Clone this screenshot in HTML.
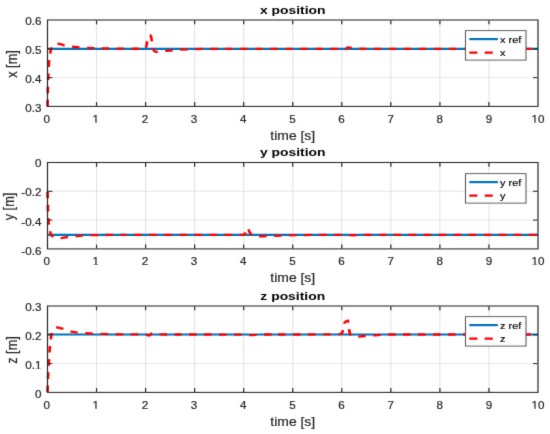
<!DOCTYPE html>
<html><head><meta charset="utf-8"><style>
html,body{margin:0;padding:0;background:#fff;width:550px;height:434px;overflow:hidden}
svg{display:block;font-family:"Liberation Sans",sans-serif}
</style></head><body>
<svg width="550" height="434" viewBox="0 0 550 434" font-family="Liberation Sans, sans-serif">
<defs><filter id="soft" filterUnits="userSpaceOnUse" x="0" y="0" width="550" height="434" color-interpolation-filters="sRGB"><feConvolveMatrix order="3" kernelMatrix="1 8 1 8 64 8 1 8 1" divisor="100" edgeMode="duplicate"/></filter></defs>
<g filter="url(#soft)">
<rect x="0" y="0" width="550" height="434" fill="#fff"/>
<g transform="scale(1.1400,1)">
<line x1="84.69" y1="20.00" x2="84.69" y2="106.40" stroke="#e3e3e3" stroke-width="0.95"/>
<line x1="127.72" y1="20.00" x2="127.72" y2="106.40" stroke="#e3e3e3" stroke-width="0.95"/>
<line x1="170.75" y1="20.00" x2="170.75" y2="106.40" stroke="#e3e3e3" stroke-width="0.95"/>
<line x1="213.77" y1="20.00" x2="213.77" y2="106.40" stroke="#e3e3e3" stroke-width="0.95"/>
<line x1="256.80" y1="20.00" x2="256.80" y2="106.40" stroke="#e3e3e3" stroke-width="0.95"/>
<line x1="299.82" y1="20.00" x2="299.82" y2="106.40" stroke="#e3e3e3" stroke-width="0.95"/>
<line x1="342.85" y1="20.00" x2="342.85" y2="106.40" stroke="#e3e3e3" stroke-width="0.95"/>
<line x1="385.88" y1="20.00" x2="385.88" y2="106.40" stroke="#e3e3e3" stroke-width="0.95"/>
<line x1="428.90" y1="20.00" x2="428.90" y2="106.40" stroke="#e3e3e3" stroke-width="0.95"/>
<line x1="41.67" y1="77.60" x2="471.93" y2="77.60" stroke="#e3e3e3" stroke-width="0.95"/>
<line x1="41.67" y1="48.80" x2="471.93" y2="48.80" stroke="#e3e3e3" stroke-width="0.95"/>
<line x1="41.67" y1="48.80" x2="471.93" y2="48.80" stroke="#0072BD" stroke-width="2.20"/>
<path d="M41.67,106.40 L41.95,90.14 L42.46,72.02 L42.96,62.60 L43.53,56.70 L44.32,51.32 L44.83,49.13 L45.55,47.05 L46.26,45.73 L47.13,44.61 L47.70,44.19 L49.07,43.71 L50.07,43.62 L51.79,43.91 L53.66,44.42 L56.46,45.42 L60.20,46.13 L70.69,47.55 L75.36,47.89 L84.69,48.24" fill="none" stroke="#FF0000" stroke-width="2.30" stroke-dasharray="6.6 6.6" stroke-dashoffset="0.00"/>
<path d="M84.69,48.24 L103.28,48.65 L126.53,48.80 L127.39,48.77 L127.82,48.18 L128.32,46.40 L129.11,41.39 L129.90,38.07 L130.40,36.78 L131.12,35.52 L131.48,35.23 L131.69,35.23 L132.05,35.67 L132.56,36.90 L133.13,40.59 L133.78,46.12 L134.35,48.93 L134.78,50.02 L135.43,50.99 L136.00,51.45 L136.86,51.84 L138.22,51.85 L141.24,51.54 L145.76,50.86 L158.39,49.62 L167.36,49.16 L177.26,48.91 L192.26,48.80" fill="none" stroke="#FF0000" stroke-width="2.30" stroke-dasharray="6.6 6.6" stroke-dashoffset="8.86"/>
<path d="M192.26,48.80 L300.01,48.82 L301.38,49.50 L302.52,49.43 L303.10,49.26 L303.82,48.51 L304.61,47.65 L304.99,47.50 L306.98,47.69 L309.27,48.37 L313.29,48.76 L325.64,48.80" fill="none" stroke="#FF0000" stroke-width="2.30" stroke-dasharray="6.6 6.6" stroke-dashoffset="8.09"/>
<path d="M325.64,48.80 L471.93,48.80" fill="none" stroke="#FF0000" stroke-width="2.30" stroke-dasharray="6.6 6.6" stroke-dashoffset="11.03"/>
<line x1="84.69" y1="105.88" x2="84.69" y2="102.10" stroke="#262626" stroke-width="1.05"/>
<line x1="84.69" y1="20.52" x2="84.69" y2="24.30" stroke="#262626" stroke-width="1.05"/>
<line x1="127.72" y1="105.88" x2="127.72" y2="102.10" stroke="#262626" stroke-width="1.05"/>
<line x1="127.72" y1="20.52" x2="127.72" y2="24.30" stroke="#262626" stroke-width="1.05"/>
<line x1="170.75" y1="105.88" x2="170.75" y2="102.10" stroke="#262626" stroke-width="1.05"/>
<line x1="170.75" y1="20.52" x2="170.75" y2="24.30" stroke="#262626" stroke-width="1.05"/>
<line x1="213.77" y1="105.88" x2="213.77" y2="102.10" stroke="#262626" stroke-width="1.05"/>
<line x1="213.77" y1="20.52" x2="213.77" y2="24.30" stroke="#262626" stroke-width="1.05"/>
<line x1="256.80" y1="105.88" x2="256.80" y2="102.10" stroke="#262626" stroke-width="1.05"/>
<line x1="256.80" y1="20.52" x2="256.80" y2="24.30" stroke="#262626" stroke-width="1.05"/>
<line x1="299.82" y1="105.88" x2="299.82" y2="102.10" stroke="#262626" stroke-width="1.05"/>
<line x1="299.82" y1="20.52" x2="299.82" y2="24.30" stroke="#262626" stroke-width="1.05"/>
<line x1="342.85" y1="105.88" x2="342.85" y2="102.10" stroke="#262626" stroke-width="1.05"/>
<line x1="342.85" y1="20.52" x2="342.85" y2="24.30" stroke="#262626" stroke-width="1.05"/>
<line x1="385.88" y1="105.88" x2="385.88" y2="102.10" stroke="#262626" stroke-width="1.05"/>
<line x1="385.88" y1="20.52" x2="385.88" y2="24.30" stroke="#262626" stroke-width="1.05"/>
<line x1="428.90" y1="105.88" x2="428.90" y2="102.10" stroke="#262626" stroke-width="1.05"/>
<line x1="428.90" y1="20.52" x2="428.90" y2="24.30" stroke="#262626" stroke-width="1.05"/>
<line x1="42.19" y1="77.60" x2="45.97" y2="77.60" stroke="#262626" stroke-width="1.05"/>
<line x1="471.40" y1="77.60" x2="467.63" y2="77.60" stroke="#262626" stroke-width="1.05"/>
<line x1="42.19" y1="48.80" x2="45.97" y2="48.80" stroke="#262626" stroke-width="1.05"/>
<line x1="471.40" y1="48.80" x2="467.63" y2="48.80" stroke="#262626" stroke-width="1.05"/>
<rect x="41.67" y="20.00" width="430.26" height="86.40" fill="none" stroke="#262626" stroke-width="1.05"/>
<text transform="translate(40.96,122.80) scale(0.930,1)" text-anchor="middle" font-size="11.00" font-weight="normal" fill="#262626" stroke="#262626" stroke-width="0.20">0</text>
<text transform="translate(84.07,122.80) scale(0.930,1)" text-anchor="middle" font-size="11.00" font-weight="normal" fill="#262626" stroke="#262626" stroke-width="0.20">1</text>
<text transform="translate(127.18,122.80) scale(0.930,1)" text-anchor="middle" font-size="11.00" font-weight="normal" fill="#262626" stroke="#262626" stroke-width="0.20">2</text>
<text transform="translate(170.28,122.80) scale(0.930,1)" text-anchor="middle" font-size="11.00" font-weight="normal" fill="#262626" stroke="#262626" stroke-width="0.20">3</text>
<text transform="translate(213.39,122.80) scale(0.930,1)" text-anchor="middle" font-size="11.00" font-weight="normal" fill="#262626" stroke="#262626" stroke-width="0.20">4</text>
<text transform="translate(256.49,122.80) scale(0.930,1)" text-anchor="middle" font-size="11.00" font-weight="normal" fill="#262626" stroke="#262626" stroke-width="0.20">5</text>
<text transform="translate(299.60,122.80) scale(0.930,1)" text-anchor="middle" font-size="11.00" font-weight="normal" fill="#262626" stroke="#262626" stroke-width="0.20">6</text>
<text transform="translate(342.70,122.80) scale(0.930,1)" text-anchor="middle" font-size="11.00" font-weight="normal" fill="#262626" stroke="#262626" stroke-width="0.20">7</text>
<text transform="translate(385.81,122.80) scale(0.930,1)" text-anchor="middle" font-size="11.00" font-weight="normal" fill="#262626" stroke="#262626" stroke-width="0.20">8</text>
<text transform="translate(428.91,122.80) scale(0.930,1)" text-anchor="middle" font-size="11.00" font-weight="normal" fill="#262626" stroke="#262626" stroke-width="0.20">9</text>
<text transform="translate(472.02,122.80) scale(0.930,1)" text-anchor="middle" font-size="11.00" font-weight="normal" fill="#262626" stroke="#262626" stroke-width="0.20">10</text>
<text transform="translate(36.32,112.10) scale(0.930,1)" text-anchor="end" font-size="11.00" font-weight="normal" fill="#262626" stroke="#262626" stroke-width="0.20">0.3</text>
<text transform="translate(36.32,83.30) scale(0.930,1)" text-anchor="end" font-size="11.00" font-weight="normal" fill="#262626" stroke="#262626" stroke-width="0.20">0.4</text>
<text transform="translate(36.32,53.85) scale(0.930,1)" text-anchor="end" font-size="11.00" font-weight="normal" fill="#262626" stroke="#262626" stroke-width="0.20">0.5</text>
<text transform="translate(36.32,24.85) scale(0.930,1)" text-anchor="end" font-size="11.00" font-weight="normal" fill="#262626" stroke="#262626" stroke-width="0.20">0.6</text>
<rect x="81.53" y="121.93" width="2.24" height="1.57" fill="#fff"/><rect x="84.73" y="121.93" width="2.19" height="1.57" fill="#fff"/>
<rect x="466.63" y="121.93" width="2.24" height="1.57" fill="#fff"/><rect x="469.83" y="121.93" width="2.19" height="1.57" fill="#fff"/>
<text transform="translate(256.80,139.90)" text-anchor="middle" font-size="12.20" font-weight="normal" fill="#262626" stroke="#262626" stroke-width="0.20">time [s]</text>
<text transform="translate(15.35,64.00) rotate(-90)" text-anchor="middle" font-size="12.80" font-weight="normal" fill="#262626" stroke="#262626" stroke-width="0.20">x [m]</text>
<text transform="translate(256.80,13.90) scale(1.070,1)" text-anchor="middle" font-size="11.40" font-weight="bold" fill="#000">x position</text>
<rect x="408.33" y="30.60" width="53.07" height="29.50" fill="#fff" stroke="#5a5a5a" stroke-width="0.95"/>
<line x1="411.67" y1="39.10" x2="436.75" y2="39.10" stroke="#0072BD" stroke-width="2.20"/>
<line x1="411.67" y1="52.60" x2="436.75" y2="52.60" stroke="#FF0000" stroke-width="2.30" stroke-dasharray="7.1 6.4"/>
<text transform="translate(438.60,42.60)" text-anchor="start" font-size="9.60" font-weight="normal" fill="#000" stroke="#000" stroke-width="0.15">x ref</text>
<text transform="translate(438.60,56.30)" text-anchor="start" font-size="9.60" font-weight="normal" fill="#000" stroke="#000" stroke-width="0.15">x</text>
<line x1="84.69" y1="162.50" x2="84.69" y2="248.90" stroke="#e3e3e3" stroke-width="0.95"/>
<line x1="127.72" y1="162.50" x2="127.72" y2="248.90" stroke="#e3e3e3" stroke-width="0.95"/>
<line x1="170.75" y1="162.50" x2="170.75" y2="248.90" stroke="#e3e3e3" stroke-width="0.95"/>
<line x1="213.77" y1="162.50" x2="213.77" y2="248.90" stroke="#e3e3e3" stroke-width="0.95"/>
<line x1="256.80" y1="162.50" x2="256.80" y2="248.90" stroke="#e3e3e3" stroke-width="0.95"/>
<line x1="299.82" y1="162.50" x2="299.82" y2="248.90" stroke="#e3e3e3" stroke-width="0.95"/>
<line x1="342.85" y1="162.50" x2="342.85" y2="248.90" stroke="#e3e3e3" stroke-width="0.95"/>
<line x1="385.88" y1="162.50" x2="385.88" y2="248.90" stroke="#e3e3e3" stroke-width="0.95"/>
<line x1="428.90" y1="162.50" x2="428.90" y2="248.90" stroke="#e3e3e3" stroke-width="0.95"/>
<line x1="41.67" y1="220.10" x2="471.93" y2="220.10" stroke="#e3e3e3" stroke-width="0.95"/>
<line x1="41.67" y1="191.30" x2="471.93" y2="191.30" stroke="#e3e3e3" stroke-width="0.95"/>
<line x1="41.67" y1="234.90" x2="471.93" y2="234.90" stroke="#0072BD" stroke-width="2.20"/>
<path d="M41.67,191.70 L42.18,213.30 L42.60,222.47 L43.03,226.88 L43.68,230.61 L44.54,233.70 L45.18,235.33 L45.97,236.32 L46.84,237.00 L48.20,237.53 L49.99,237.90 L52.94,238.07 L54.88,237.87 L58.75,237.16 L67.22,236.17 L71.75,235.62 L79.43,235.22 L93.93,234.97 L106.21,234.91" fill="none" stroke="#FF0000" stroke-width="2.30" stroke-dasharray="6.6 6.6" stroke-dashoffset="0.00"/>
<path d="M106.21,234.91 L213.32,234.86 L213.97,234.66 L214.47,234.08 L215.19,232.74 L216.14,229.43 L216.76,228.02 L217.00,227.84 L217.27,228.05 L218.63,231.18 L219.49,233.12 L220.35,234.56 L221.07,235.24 L222.00,235.79 L224.01,236.21 L226.38,236.41 L230.83,236.25 L254.43,235.25 L256.80,235.19" fill="none" stroke="#FF0000" stroke-width="2.30" stroke-dasharray="6.6 6.6" stroke-dashoffset="1.69"/>
<path d="M256.80,235.19 L273.81,234.94 L300.87,234.94 L304.67,235.20 L310.12,235.23 L320.60,234.90 L342.85,234.90" fill="none" stroke="#FF0000" stroke-width="2.30" stroke-dasharray="6.6 6.6" stroke-dashoffset="3.33"/>
<path d="M342.85,234.90 L471.93,234.90" fill="none" stroke="#FF0000" stroke-width="2.30" stroke-dasharray="6.6 6.6" stroke-dashoffset="10.83"/>
<line x1="84.69" y1="248.38" x2="84.69" y2="244.60" stroke="#262626" stroke-width="1.05"/>
<line x1="84.69" y1="163.03" x2="84.69" y2="166.80" stroke="#262626" stroke-width="1.05"/>
<line x1="127.72" y1="248.38" x2="127.72" y2="244.60" stroke="#262626" stroke-width="1.05"/>
<line x1="127.72" y1="163.03" x2="127.72" y2="166.80" stroke="#262626" stroke-width="1.05"/>
<line x1="170.75" y1="248.38" x2="170.75" y2="244.60" stroke="#262626" stroke-width="1.05"/>
<line x1="170.75" y1="163.03" x2="170.75" y2="166.80" stroke="#262626" stroke-width="1.05"/>
<line x1="213.77" y1="248.38" x2="213.77" y2="244.60" stroke="#262626" stroke-width="1.05"/>
<line x1="213.77" y1="163.03" x2="213.77" y2="166.80" stroke="#262626" stroke-width="1.05"/>
<line x1="256.80" y1="248.38" x2="256.80" y2="244.60" stroke="#262626" stroke-width="1.05"/>
<line x1="256.80" y1="163.03" x2="256.80" y2="166.80" stroke="#262626" stroke-width="1.05"/>
<line x1="299.82" y1="248.38" x2="299.82" y2="244.60" stroke="#262626" stroke-width="1.05"/>
<line x1="299.82" y1="163.03" x2="299.82" y2="166.80" stroke="#262626" stroke-width="1.05"/>
<line x1="342.85" y1="248.38" x2="342.85" y2="244.60" stroke="#262626" stroke-width="1.05"/>
<line x1="342.85" y1="163.03" x2="342.85" y2="166.80" stroke="#262626" stroke-width="1.05"/>
<line x1="385.88" y1="248.38" x2="385.88" y2="244.60" stroke="#262626" stroke-width="1.05"/>
<line x1="385.88" y1="163.03" x2="385.88" y2="166.80" stroke="#262626" stroke-width="1.05"/>
<line x1="428.90" y1="248.38" x2="428.90" y2="244.60" stroke="#262626" stroke-width="1.05"/>
<line x1="428.90" y1="163.03" x2="428.90" y2="166.80" stroke="#262626" stroke-width="1.05"/>
<line x1="42.19" y1="220.10" x2="45.97" y2="220.10" stroke="#262626" stroke-width="1.05"/>
<line x1="471.40" y1="220.10" x2="467.63" y2="220.10" stroke="#262626" stroke-width="1.05"/>
<line x1="42.19" y1="191.30" x2="45.97" y2="191.30" stroke="#262626" stroke-width="1.05"/>
<line x1="471.40" y1="191.30" x2="467.63" y2="191.30" stroke="#262626" stroke-width="1.05"/>
<rect x="41.67" y="162.50" width="430.26" height="86.40" fill="none" stroke="#262626" stroke-width="1.05"/>
<text transform="translate(40.96,265.30) scale(0.930,1)" text-anchor="middle" font-size="11.00" font-weight="normal" fill="#262626" stroke="#262626" stroke-width="0.20">0</text>
<text transform="translate(84.07,265.30) scale(0.930,1)" text-anchor="middle" font-size="11.00" font-weight="normal" fill="#262626" stroke="#262626" stroke-width="0.20">1</text>
<text transform="translate(127.18,265.30) scale(0.930,1)" text-anchor="middle" font-size="11.00" font-weight="normal" fill="#262626" stroke="#262626" stroke-width="0.20">2</text>
<text transform="translate(170.28,265.30) scale(0.930,1)" text-anchor="middle" font-size="11.00" font-weight="normal" fill="#262626" stroke="#262626" stroke-width="0.20">3</text>
<text transform="translate(213.39,265.30) scale(0.930,1)" text-anchor="middle" font-size="11.00" font-weight="normal" fill="#262626" stroke="#262626" stroke-width="0.20">4</text>
<text transform="translate(256.49,265.30) scale(0.930,1)" text-anchor="middle" font-size="11.00" font-weight="normal" fill="#262626" stroke="#262626" stroke-width="0.20">5</text>
<text transform="translate(299.60,265.30) scale(0.930,1)" text-anchor="middle" font-size="11.00" font-weight="normal" fill="#262626" stroke="#262626" stroke-width="0.20">6</text>
<text transform="translate(342.70,265.30) scale(0.930,1)" text-anchor="middle" font-size="11.00" font-weight="normal" fill="#262626" stroke="#262626" stroke-width="0.20">7</text>
<text transform="translate(385.81,265.30) scale(0.930,1)" text-anchor="middle" font-size="11.00" font-weight="normal" fill="#262626" stroke="#262626" stroke-width="0.20">8</text>
<text transform="translate(428.91,265.30) scale(0.930,1)" text-anchor="middle" font-size="11.00" font-weight="normal" fill="#262626" stroke="#262626" stroke-width="0.20">9</text>
<text transform="translate(472.02,265.30) scale(0.930,1)" text-anchor="middle" font-size="11.00" font-weight="normal" fill="#262626" stroke="#262626" stroke-width="0.20">10</text>
<text transform="translate(36.32,254.70) scale(0.930,1)" text-anchor="end" font-size="11.00" font-weight="normal" fill="#262626" stroke="#262626" stroke-width="0.20">-0.6</text>
<text transform="translate(36.32,225.85) scale(0.930,1)" text-anchor="end" font-size="11.00" font-weight="normal" fill="#262626" stroke="#262626" stroke-width="0.20">-0.4</text>
<text transform="translate(36.32,196.20) scale(0.930,1)" text-anchor="end" font-size="11.00" font-weight="normal" fill="#262626" stroke="#262626" stroke-width="0.20">-0.2</text>
<text transform="translate(36.32,167.30) scale(0.930,1)" text-anchor="end" font-size="11.00" font-weight="normal" fill="#262626" stroke="#262626" stroke-width="0.20">0</text>
<rect x="81.53" y="264.43" width="2.24" height="1.57" fill="#fff"/><rect x="84.73" y="264.43" width="2.19" height="1.57" fill="#fff"/>
<rect x="466.63" y="264.43" width="2.24" height="1.57" fill="#fff"/><rect x="469.83" y="264.43" width="2.19" height="1.57" fill="#fff"/>
<text transform="translate(256.80,282.40)" text-anchor="middle" font-size="12.20" font-weight="normal" fill="#262626" stroke="#262626" stroke-width="0.20">time [s]</text>
<text transform="translate(12.46,206.50) rotate(-90)" text-anchor="middle" font-size="12.80" font-weight="normal" fill="#262626" stroke="#262626" stroke-width="0.20">y [m]</text>
<text transform="translate(256.80,156.40) scale(1.070,1)" text-anchor="middle" font-size="11.40" font-weight="bold" fill="#000">y position</text>
<rect x="408.33" y="173.60" width="53.07" height="29.50" fill="#fff" stroke="#5a5a5a" stroke-width="0.95"/>
<line x1="411.67" y1="182.10" x2="436.75" y2="182.10" stroke="#0072BD" stroke-width="2.20"/>
<line x1="411.67" y1="195.60" x2="436.75" y2="195.60" stroke="#FF0000" stroke-width="2.30" stroke-dasharray="7.1 6.4"/>
<text transform="translate(438.60,185.60)" text-anchor="start" font-size="9.60" font-weight="normal" fill="#000" stroke="#000" stroke-width="0.15">y ref</text>
<text transform="translate(438.60,199.30)" text-anchor="start" font-size="9.60" font-weight="normal" fill="#000" stroke="#000" stroke-width="0.15">y</text>
<line x1="84.69" y1="306.00" x2="84.69" y2="392.40" stroke="#e3e3e3" stroke-width="0.95"/>
<line x1="127.72" y1="306.00" x2="127.72" y2="392.40" stroke="#e3e3e3" stroke-width="0.95"/>
<line x1="170.75" y1="306.00" x2="170.75" y2="392.40" stroke="#e3e3e3" stroke-width="0.95"/>
<line x1="213.77" y1="306.00" x2="213.77" y2="392.40" stroke="#e3e3e3" stroke-width="0.95"/>
<line x1="256.80" y1="306.00" x2="256.80" y2="392.40" stroke="#e3e3e3" stroke-width="0.95"/>
<line x1="299.82" y1="306.00" x2="299.82" y2="392.40" stroke="#e3e3e3" stroke-width="0.95"/>
<line x1="342.85" y1="306.00" x2="342.85" y2="392.40" stroke="#e3e3e3" stroke-width="0.95"/>
<line x1="385.88" y1="306.00" x2="385.88" y2="392.40" stroke="#e3e3e3" stroke-width="0.95"/>
<line x1="428.90" y1="306.00" x2="428.90" y2="392.40" stroke="#e3e3e3" stroke-width="0.95"/>
<line x1="41.67" y1="363.60" x2="471.93" y2="363.60" stroke="#e3e3e3" stroke-width="0.95"/>
<line x1="41.67" y1="334.80" x2="471.93" y2="334.80" stroke="#e3e3e3" stroke-width="0.95"/>
<line x1="41.67" y1="334.50" x2="471.93" y2="334.50" stroke="#0072BD" stroke-width="2.20"/>
<path d="M41.67,392.10 L42.24,374.51 L43.68,347.94 L44.32,340.71 L45.04,335.28 L45.69,332.61 L46.33,330.89 L47.34,329.14 L48.06,328.35 L49.21,327.65 L49.85,327.50 L51.15,327.69 L56.73,329.20 L58.54,330.00 L61.06,331.23 L62.85,331.74 L66.66,332.42 L72.19,333.02 L79.37,333.42 L89.00,333.92" fill="none" stroke="#FF0000" stroke-width="2.30" stroke-dasharray="6.6 6.6" stroke-dashoffset="0.00"/>
<path d="M89.00,333.92 L104.65,334.33 L125.18,334.50 L127.98,334.53 L128.84,334.90 L129.92,335.45 L130.56,335.48 L131.42,335.15 L132.21,334.62 L133.07,333.45 L133.36,333.35 L134.44,333.55 L136.23,334.06 L140.90,334.46 L153.54,334.50" fill="none" stroke="#FF0000" stroke-width="2.30" stroke-dasharray="6.6 6.6" stroke-dashoffset="0.66"/>
<path d="M153.54,334.50 L214.38,334.54 L217.61,335.20 L221.27,335.13 L224.50,334.88 L228.17,334.51 L239.59,334.50" fill="none" stroke="#FF0000" stroke-width="2.30" stroke-dasharray="6.6 6.6" stroke-dashoffset="0.99"/>
<path d="M239.59,334.50 L296.35,334.46 L298.28,334.13 L298.93,333.89 L299.72,333.18 L300.22,332.40 L300.72,330.87 L301.33,325.57 L301.94,323.46 L302.45,322.49 L303.31,321.50 L304.13,320.96 L304.96,320.68 L305.10,320.69 L305.32,321.31 L305.96,325.98 L306.49,331.33 L307.04,333.81 L307.47,334.85 L308.04,335.66 L308.47,335.96 L310.34,336.50 L312.21,336.73 L314.50,336.65 L320.03,336.01 L328.71,335.33 L334.09,334.80 L341.84,334.51 L351.46,334.50" fill="none" stroke="#FF0000" stroke-width="2.30" stroke-dasharray="6.6 6.6" stroke-dashoffset="8.88"/>
<path d="M351.46,334.50 L471.93,334.50" fill="none" stroke="#FF0000" stroke-width="2.30" stroke-dasharray="6.6 6.6" stroke-dashoffset="11.24"/>
<line x1="84.69" y1="391.88" x2="84.69" y2="388.10" stroke="#262626" stroke-width="1.05"/>
<line x1="84.69" y1="306.52" x2="84.69" y2="310.30" stroke="#262626" stroke-width="1.05"/>
<line x1="127.72" y1="391.88" x2="127.72" y2="388.10" stroke="#262626" stroke-width="1.05"/>
<line x1="127.72" y1="306.52" x2="127.72" y2="310.30" stroke="#262626" stroke-width="1.05"/>
<line x1="170.75" y1="391.88" x2="170.75" y2="388.10" stroke="#262626" stroke-width="1.05"/>
<line x1="170.75" y1="306.52" x2="170.75" y2="310.30" stroke="#262626" stroke-width="1.05"/>
<line x1="213.77" y1="391.88" x2="213.77" y2="388.10" stroke="#262626" stroke-width="1.05"/>
<line x1="213.77" y1="306.52" x2="213.77" y2="310.30" stroke="#262626" stroke-width="1.05"/>
<line x1="256.80" y1="391.88" x2="256.80" y2="388.10" stroke="#262626" stroke-width="1.05"/>
<line x1="256.80" y1="306.52" x2="256.80" y2="310.30" stroke="#262626" stroke-width="1.05"/>
<line x1="299.82" y1="391.88" x2="299.82" y2="388.10" stroke="#262626" stroke-width="1.05"/>
<line x1="299.82" y1="306.52" x2="299.82" y2="310.30" stroke="#262626" stroke-width="1.05"/>
<line x1="342.85" y1="391.88" x2="342.85" y2="388.10" stroke="#262626" stroke-width="1.05"/>
<line x1="342.85" y1="306.52" x2="342.85" y2="310.30" stroke="#262626" stroke-width="1.05"/>
<line x1="385.88" y1="391.88" x2="385.88" y2="388.10" stroke="#262626" stroke-width="1.05"/>
<line x1="385.88" y1="306.52" x2="385.88" y2="310.30" stroke="#262626" stroke-width="1.05"/>
<line x1="428.90" y1="391.88" x2="428.90" y2="388.10" stroke="#262626" stroke-width="1.05"/>
<line x1="428.90" y1="306.52" x2="428.90" y2="310.30" stroke="#262626" stroke-width="1.05"/>
<line x1="42.19" y1="363.60" x2="45.97" y2="363.60" stroke="#262626" stroke-width="1.05"/>
<line x1="471.40" y1="363.60" x2="467.63" y2="363.60" stroke="#262626" stroke-width="1.05"/>
<line x1="42.19" y1="334.80" x2="45.97" y2="334.80" stroke="#262626" stroke-width="1.05"/>
<line x1="471.40" y1="334.80" x2="467.63" y2="334.80" stroke="#262626" stroke-width="1.05"/>
<rect x="41.67" y="306.00" width="430.26" height="86.40" fill="none" stroke="#262626" stroke-width="1.05"/>
<text transform="translate(40.96,408.80) scale(0.930,1)" text-anchor="middle" font-size="11.00" font-weight="normal" fill="#262626" stroke="#262626" stroke-width="0.20">0</text>
<text transform="translate(84.07,408.80) scale(0.930,1)" text-anchor="middle" font-size="11.00" font-weight="normal" fill="#262626" stroke="#262626" stroke-width="0.20">1</text>
<text transform="translate(127.18,408.80) scale(0.930,1)" text-anchor="middle" font-size="11.00" font-weight="normal" fill="#262626" stroke="#262626" stroke-width="0.20">2</text>
<text transform="translate(170.28,408.80) scale(0.930,1)" text-anchor="middle" font-size="11.00" font-weight="normal" fill="#262626" stroke="#262626" stroke-width="0.20">3</text>
<text transform="translate(213.39,408.80) scale(0.930,1)" text-anchor="middle" font-size="11.00" font-weight="normal" fill="#262626" stroke="#262626" stroke-width="0.20">4</text>
<text transform="translate(256.49,408.80) scale(0.930,1)" text-anchor="middle" font-size="11.00" font-weight="normal" fill="#262626" stroke="#262626" stroke-width="0.20">5</text>
<text transform="translate(299.60,408.80) scale(0.930,1)" text-anchor="middle" font-size="11.00" font-weight="normal" fill="#262626" stroke="#262626" stroke-width="0.20">6</text>
<text transform="translate(342.70,408.80) scale(0.930,1)" text-anchor="middle" font-size="11.00" font-weight="normal" fill="#262626" stroke="#262626" stroke-width="0.20">7</text>
<text transform="translate(385.81,408.80) scale(0.930,1)" text-anchor="middle" font-size="11.00" font-weight="normal" fill="#262626" stroke="#262626" stroke-width="0.20">8</text>
<text transform="translate(428.91,408.80) scale(0.930,1)" text-anchor="middle" font-size="11.00" font-weight="normal" fill="#262626" stroke="#262626" stroke-width="0.20">9</text>
<text transform="translate(472.02,408.80) scale(0.930,1)" text-anchor="middle" font-size="11.00" font-weight="normal" fill="#262626" stroke="#262626" stroke-width="0.20">10</text>
<text transform="translate(36.32,398.20) scale(0.930,1)" text-anchor="end" font-size="11.00" font-weight="normal" fill="#262626" stroke="#262626" stroke-width="0.20">0</text>
<text transform="translate(36.32,369.30) scale(0.930,1)" text-anchor="end" font-size="11.00" font-weight="normal" fill="#262626" stroke="#262626" stroke-width="0.20">0.1</text>
<text transform="translate(36.32,339.65) scale(0.930,1)" text-anchor="end" font-size="11.00" font-weight="normal" fill="#262626" stroke="#262626" stroke-width="0.20">0.2</text>
<text transform="translate(36.32,310.85) scale(0.930,1)" text-anchor="end" font-size="11.00" font-weight="normal" fill="#262626" stroke="#262626" stroke-width="0.20">0.3</text>
<rect x="81.53" y="407.93" width="2.24" height="1.57" fill="#fff"/><rect x="84.73" y="407.93" width="2.19" height="1.57" fill="#fff"/>
<rect x="466.63" y="407.93" width="2.24" height="1.57" fill="#fff"/><rect x="469.83" y="407.93" width="2.19" height="1.57" fill="#fff"/>
<rect x="30.93" y="368.43" width="2.24" height="1.57" fill="#fff"/><rect x="34.13" y="368.43" width="2.19" height="1.57" fill="#fff"/>
<text transform="translate(256.80,425.90)" text-anchor="middle" font-size="12.20" font-weight="normal" fill="#262626" stroke="#262626" stroke-width="0.20">time [s]</text>
<text transform="translate(15.35,350.00) rotate(-90)" text-anchor="middle" font-size="12.80" font-weight="normal" fill="#262626" stroke="#262626" stroke-width="0.20">z [m]</text>
<text transform="translate(256.80,299.90) scale(1.070,1)" text-anchor="middle" font-size="11.40" font-weight="bold" fill="#000">z position</text>
<rect x="408.33" y="316.60" width="53.07" height="29.50" fill="#fff" stroke="#5a5a5a" stroke-width="0.95"/>
<line x1="411.67" y1="325.10" x2="436.75" y2="325.10" stroke="#0072BD" stroke-width="2.20"/>
<line x1="411.67" y1="338.60" x2="436.75" y2="338.60" stroke="#FF0000" stroke-width="2.30" stroke-dasharray="7.1 6.4"/>
<text transform="translate(438.60,328.60)" text-anchor="start" font-size="9.60" font-weight="normal" fill="#000" stroke="#000" stroke-width="0.15">z ref</text>
<text transform="translate(438.60,342.30)" text-anchor="start" font-size="9.60" font-weight="normal" fill="#000" stroke="#000" stroke-width="0.15">z</text>
</g>
</g>
</svg>
</body></html>
